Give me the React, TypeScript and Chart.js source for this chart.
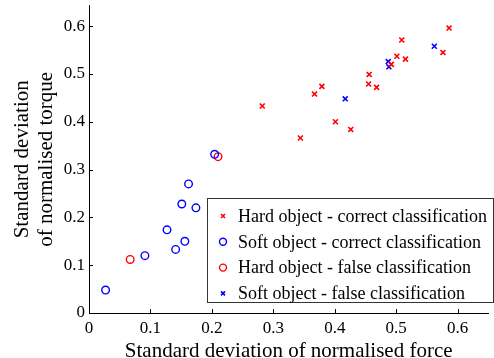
import React, { useEffect, useRef } from "react";
import { Chart, registerables } from "chart.js";

Chart.register(...registerables);

const seriesLabels = [
  "Hard object - correct classification",
  "Soft object - correct classification",
  "Hard object - false classification",
  "Soft object - false classification",
];

const hardCorrect = [
  { x: 0.282, y: 0.433 },
  { x: 0.344, y: 0.366 },
  { x: 0.367, y: 0.458 },
  { x: 0.379, y: 0.474 },
  { x: 0.401, y: 0.4 },
  { x: 0.426, y: 0.384 },
  { x: 0.456, y: 0.499 },
  { x: 0.455, y: 0.479 },
  { x: 0.468, y: 0.472 },
  { x: 0.492, y: 0.52 },
  { x: 0.501, y: 0.537 },
  { x: 0.515, y: 0.531 },
  { x: 0.509, y: 0.571 },
  { x: 0.576, y: 0.545 },
  { x: 0.586, y: 0.596 },
];

const softCorrect = [
  { x: 0.027, y: 0.048 },
  { x: 0.091, y: 0.12 },
  { x: 0.127, y: 0.174 },
  { x: 0.141, y: 0.133 },
  { x: 0.156, y: 0.15 },
  { x: 0.151, y: 0.228 },
  { x: 0.162, y: 0.27 },
  { x: 0.174, y: 0.22 },
  { x: 0.2045, y: 0.332 },
];

const hardFalse = [
  { x: 0.067, y: 0.112 },
  { x: 0.21, y: 0.327 },
];

const softFalse = [
  { x: 0.417, y: 0.448 },
  { x: 0.487, y: 0.526 },
  { x: 0.488, y: 0.515 },
  { x: 0.562, y: 0.558 },
];

const xTitle = "Standard deviation of normalised force";
const yTitle = ["Standard deviation", "of normalised torque"];

const RED = "#ff0000";
const BLUE = "#0000ff";
const FONT = "'Liberation Serif', 'Times New Roman', serif";

const inwardTicks = {
  id: "inwardTicks",
  afterDraw(chart: any) {
    const { ctx, chartArea } = chart;
    const xs = chart.scales.x;
    const ys = chart.scales.y;
    ctx.save();
    ctx.strokeStyle = "#000";
    ctx.lineWidth = 1;
    ctx.beginPath();
    xs.ticks.forEach((t: any) => {
      const px = Math.round(xs.getPixelForValue(t.value)) + 0.5;
      ctx.moveTo(px, chartArea.bottom);
      ctx.lineTo(px, chartArea.bottom - 4);
    });
    ys.ticks.forEach((t: any) => {
      const py = Math.round(ys.getPixelForValue(t.value)) + 0.5;
      ctx.moveTo(chartArea.left, py);
      ctx.lineTo(chartArea.left + 4, py);
    });
    ctx.stroke();
    ctx.restore();
  },
};

const boxLegend = {
  id: "boxLegend",
  afterDraw(chart: any) {
    const { ctx } = chart;
    const left = 207.5;
    const top = 198.5;
    const right = 493.5;
    const bottom = 302.5;
    ctx.save();
    ctx.fillStyle = "#fff";
    ctx.fillRect(left, top, right - left, bottom - top);
    ctx.strokeStyle = "#333";
    ctx.lineWidth = 1;
    ctx.strokeRect(left, top, right - left, bottom - top);
    ctx.font = `18px ${FONT}`;
    ctx.textBaseline = "middle";
    ctx.fillStyle = "#000";
    chart.data.datasets.forEach((ds: any, i: number) => {
      const cy = 216 + i * 25.8;
      const cx = 223;
      ctx.save();
      ctx.strokeStyle = ds.borderColor;
      ctx.lineWidth = ds.borderWidth;
      ctx.beginPath();
      if (ds.pointStyle === "circle") {
        ctx.arc(cx, cy, 3.5, 0, Math.PI * 2);
      } else {
        const d = 2;
        ctx.moveTo(cx - d, cy - d);
        ctx.lineTo(cx + d, cy + d);
        ctx.moveTo(cx + d, cy - d);
        ctx.lineTo(cx - d, cy + d);
      }
      ctx.stroke();
      ctx.restore();
      ctx.fillText(ds.label, 238, cy + 1);
    });
    ctx.restore();
  },
};

export default function App() {
  const ref = useRef<HTMLCanvasElement>(null);
  useEffect(() => {
    if (!ref.current) return;
    const chart = new Chart(ref.current, {
      type: "scatter",
      data: {
        datasets: [
          {
            label: seriesLabels[0],
            data: hardCorrect,
            pointStyle: "crossRot",
            pointRadius: 3.5,
            borderColor: RED,
            backgroundColor: RED,
            borderWidth: 1.6,
          },
          {
            label: seriesLabels[1],
            data: softCorrect,
            pointStyle: "circle",
            pointRadius: 3.8,
            borderColor: BLUE,
            backgroundColor: "rgba(0,0,0,0)",
            borderWidth: 1.4,
          },
          {
            label: seriesLabels[2],
            data: hardFalse,
            pointStyle: "circle",
            pointRadius: 3.8,
            borderColor: RED,
            backgroundColor: "rgba(0,0,0,0)",
            borderWidth: 1.4,
          },
          {
            label: seriesLabels[3],
            data: softFalse,
            pointStyle: "crossRot",
            pointRadius: 3.5,
            borderColor: BLUE,
            backgroundColor: BLUE,
            borderWidth: 1.6,
          },
        ] as any,
      },
      options: {
        animation: false,
        responsive: false,
        layout: { padding: { top: 4, right: 0, left: 0, bottom: 0 } },
        plugins: {
          legend: { display: false },
          tooltip: { enabled: false },
        },
        scales: {
          x: {
            type: "linear",
            min: 0,
            max: 0.65,
            ticks: {
              stepSize: 0.1,
              includeBounds: false,
              color: "#000",
              font: { family: FONT, size: 17 },
              padding: 5,
              maxRotation: 0,
            },
            grid: { display: false, drawTicks: false },
            border: { display: true, color: "#000", width: 1 },
            title: {
              display: true,
              text: xTitle,
              color: "#000",
              font: { family: FONT, size: 21, lineHeight: 1 },
              padding: { top: 0, bottom: -4 },
            },
            afterFit(scale: any) {
              scale.height = 45;
              scale.paddingLeft = 0;
              scale.paddingRight = 0;
            },
          },
          y: {
            type: "linear",
            min: 0,
            max: 0.643,
            ticks: {
              stepSize: 0.1,
              includeBounds: false,
              color: "#000",
              font: { family: FONT, size: 17 },
              padding: 4,
            },
            grid: { display: false, drawTicks: false },
            border: { display: true, color: "#000", width: 1 },
            title: {
              display: true,
              text: yTitle,
              color: "#000",
              font: { family: FONT, size: 21, lineHeight: 1.12 },
              padding: { top: 11, bottom: 0 },
            },
            afterFit(scale: any) {
              scale.width = 89;
              scale.paddingTop = 0;
              scale.paddingBottom = 0;
            },
          },
        },
      } as any,
      plugins: [inwardTicks, boxLegend],
    });
    return () => chart.destroy();
  }, []);
  return (
    <div style={{ position: "fixed", left: 0, top: 0, width: 494, height: 358, background: "#fff" }}>
      <canvas ref={ref} width={494} height={358} />
    </div>
  );
}
